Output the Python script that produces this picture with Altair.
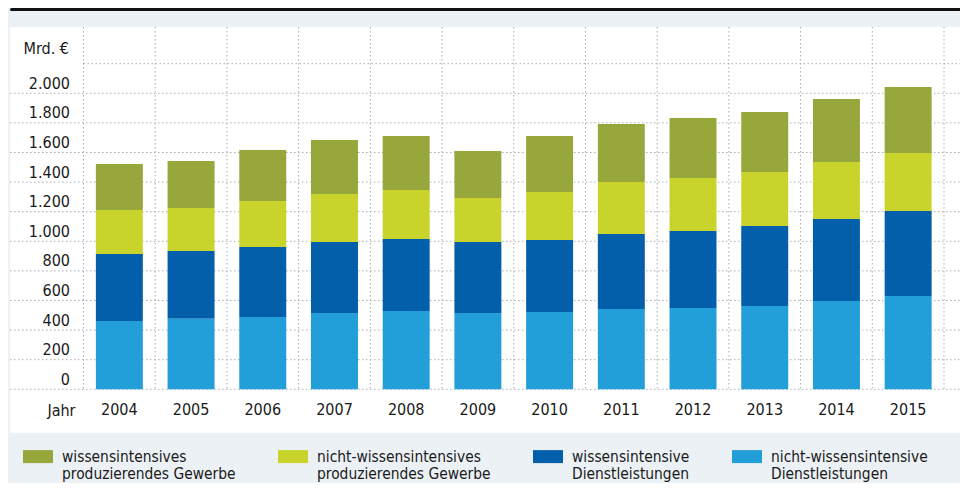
import altair as alt
import pandas as pd

years = ["2004", "2005", "2006", "2007", "2008", "2009", "2010", "2011", "2012", "2013", "2014", "2015"]
nw_dienst = [461, 476, 489, 516, 529, 516, 523, 543, 549, 563, 597, 630]   # nicht-wissensintensive Dienstleistungen
w_dienst = [453, 458, 473, 479, 487, 479, 486, 507, 521, 541, 554, 575]    # wissensintensive Dienstleistungen
nw_prod = [297, 291, 310, 325, 331, 298, 324, 351, 358, 364, 385, 392]     # nicht-wissensintensives produzierendes Gewerbe
w_prod = [311, 318, 345, 364, 364, 317, 378, 391, 405, 406, 425, 446]      # wissensintensives produzierendes Gewerbe

series_names = [
    "wissensintensives|produzierendes Gewerbe",
    "nicht-wissensintensives|produzierendes Gewerbe",
    "wissensintensive|Dienstleistungen",
    "nicht-wissensintensive|Dienstleistungen",
]
series_values = [w_prod, nw_prod, w_dienst, nw_dienst]
series_colors = ["#97A73B", "#C8D42B", "#045FAA", "#229ED9"]
stack_order = [3, 2, 1, 0]

y_ticks = [0, 200, 400, 600, 800, 1000, 1200, 1400, 1600, 1800, 2000]
y_top_grid = [2200]
y_max = 2448

rows = []
for name, vals, o in zip(series_names, series_values, stack_order):
    for yr, v in zip(years, vals):
        rows.append({"year": yr, "series": name, "value": v, "ord": o})
df = pd.DataFrame(rows)

FONT = "Liberation Sans Narrow, DejaVu Sans Condensed, Roboto Condensed, Roboto, sans-serif"
GRID = "#a9aeb3"
DASH = [1.5, 2.5]
TXT = "#1a1a1a"

W, H = 860.5, 362.3
RIGHT_EDGE = 876.5

x_scale = alt.Scale(domain=years, paddingInner=0, paddingOuter=0)
y_scale = alt.Scale(domain=[0, y_max], nice=False, zero=True)

x_axis = alt.Axis(
    title="Jahr", domain=False, ticks=False, labelAngle=0, labelPadding=12,
    labelFontSize=16, labelFont=FONT, labelColor=TXT, zindex=2, grid=False,
    titleFont=FONT, titleFontSize=16, titleFontWeight="normal", titleColor=TXT,
    titleX=-8.5, titleY=26, titleAlign="right", titleBaseline="alphabetic",
)
y_axis = alt.Axis(
    title="Mrd. €", values=y_ticks, domain=False, ticks=False, grid=False, zindex=2,
    labelExpr="replace(format(datum.value, ','), ',', '.')",
    labelFontSize=16, labelFont=FONT, labelColor=TXT, labelPadding=14,
    labelBaseline="alphabetic", labelOffset=-5,
    titleFont=FONT, titleFontSize=16, titleFontWeight="normal", titleColor=TXT,
    titleAngle=0, titleX=-60.5, titleY=26, titleAlign="left", titleBaseline="alphabetic",
)

one = pd.DataFrame({"k": [0]})

panel = alt.Chart(one).mark_rect(fill="white").encode(
    x=alt.value(-73.5), x2=alt.value(RIGHT_EDGE), y=alt.value(0), y2=alt.value(405.7)
)
topline = alt.Chart(one).mark_rule(color="#111111", strokeWidth=3, strokeCap="round").encode(
    x=alt.value(-72), x2=alt.value(RIGHT_EDGE), y=alt.value(-17.5)
)

hgrid = alt.Chart(pd.DataFrame({"value": y_ticks})).mark_rule(
    color=GRID, strokeDash=DASH, strokeWidth=1
).encode(
    y=alt.Y("value:Q", scale=y_scale, axis=y_axis), x=alt.value(-73.5), x2=alt.value(RIGHT_EDGE)
)
hgrid_top = alt.Chart(pd.DataFrame({"value": y_top_grid})).mark_rule(
    color=GRID, strokeDash=DASH, strokeWidth=1
).encode(
    y=alt.Y("value:Q", scale=y_scale, axis=y_axis), x=alt.value(0), x2=alt.value(RIGHT_EDGE)
)
vgrid = alt.Chart(pd.DataFrame({"year": years})).mark_rule(
    color=GRID, strokeDash=DASH, strokeWidth=1
).encode(
    x=alt.X("year:N", scale=x_scale, axis=x_axis, bandPosition=0),
    y=alt.value(0), y2=alt.value(H)
)
vgrid_end = alt.Chart(one).mark_rule(color=GRID, strokeDash=DASH, strokeWidth=1).encode(
    x=alt.value(W), y=alt.value(0), y2=alt.value(H)
)

bars = alt.Chart(df).mark_bar(width={"band": 0.655}).encode(
    x=alt.X("year:N", scale=x_scale, sort=years, axis=x_axis),
    y=alt.Y("value:Q", scale=y_scale, stack="zero", axis=y_axis),
    color=alt.Color(
        "series:N",
        scale=alt.Scale(domain=series_names, range=series_colors),
        legend=alt.Legend(
            title=None, orient="none", legendX=-60.5, legendY=414.5, direction="horizontal",
            columns=4, columnPadding=42, padding=0,
            symbolType="M-1,-0.4333L1,-0.4333L1,0.4333L-1,0.4333Z", symbolSize=900,
            symbolStrokeWidth=0, symbolOpacity=1,
            labelExpr="split(datum.label, '|')", labelLimit=0, labelOffset=9,
            labelFont=FONT, labelFontSize=15.4, labelColor=TXT,
        ),
    ),
    order=alt.Order("ord:Q", sort="ascending"),
)

chart = alt.layer(panel, topline, hgrid, hgrid_top, vgrid, vgrid_end, bars).properties(
    width=W, height=H,
    background="#ECF1F5",
    padding={"left": 75.5, "top": 19, "right": 16, "bottom": 93.7},
    autosize=alt.AutoSizeParams(type="none"),
).configure_view(stroke=None, fill=None)

chart.save("out.html", embed_options={"renderer": "svg", "actions": False})
